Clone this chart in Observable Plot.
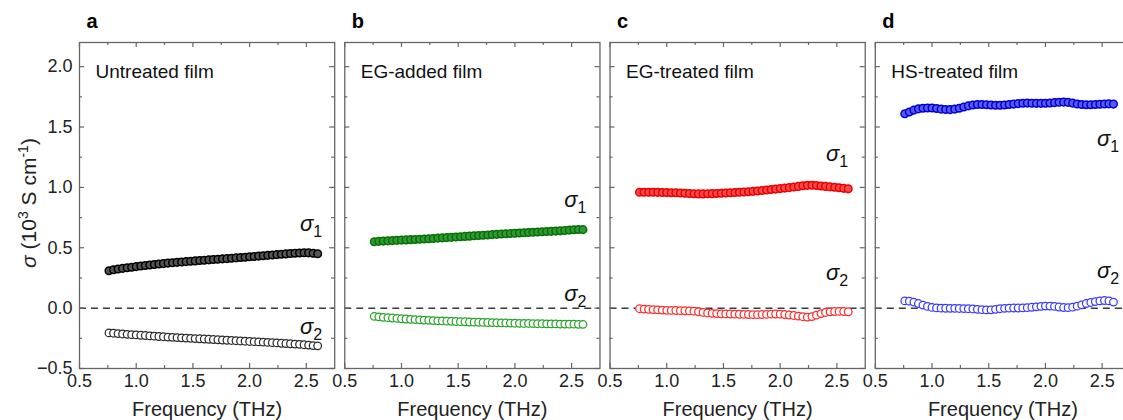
<!DOCTYPE html>
<html><head><meta charset="utf-8">
<script src="https://cdn.jsdelivr.net/npm/d3@7"></script>
<script src="https://cdn.jsdelivr.net/npm/@observablehq/plot@0.6"></script>
<style>
html,body{margin:0;padding:0;background:#fff;overflow:hidden;}
#chart{position:relative;width:1123px;height:420px;overflow:hidden;}
#chart svg{max-width:none !important;}
</style></head><body><div id="chart"></div>
<script>
// ---------- data ----------
const panels = ["a", "b", "c", "d"];
const films = ["Untreated film", "EG-added film", "EG-treated film", "HS-treated film"];
const freq = [0.76,0.80,0.84,0.88,0.92,0.96,1.00,1.04,1.08,1.12,1.16,1.20,1.24,1.28,1.32,1.36,1.40,1.44,1.48,1.52,1.56,1.60,1.64,1.68,1.72,1.76,1.80,1.84,1.88,1.92,1.96,2.00,2.04,2.08,2.12,2.16,2.20,2.24,2.28,2.32,2.36,2.40,2.44,2.48,2.52,2.56,2.60];

const sigma1_a = [0.310,0.318,0.324,0.329,0.334,0.339,0.344,0.349,0.353,0.357,0.361,0.365,0.369,0.373,0.376,0.379,0.382,0.385,0.388,0.391,0.394,0.397,0.400,0.403,0.405,0.408,0.410,0.413,0.416,0.419,0.422,0.425,0.428,0.431,0.434,0.437,0.440,0.443,0.446,0.449,0.452,0.455,0.457,0.459,0.458,0.454,0.450];
const sigma2_a = [-0.205,-0.208,-0.211,-0.214,-0.217,-0.220,-0.222,-0.225,-0.227,-0.230,-0.232,-0.235,-0.237,-0.240,-0.242,-0.244,-0.246,-0.248,-0.250,-0.252,-0.254,-0.256,-0.258,-0.260,-0.262,-0.264,-0.266,-0.268,-0.270,-0.272,-0.274,-0.276,-0.278,-0.280,-0.282,-0.284,-0.286,-0.288,-0.291,-0.293,-0.295,-0.298,-0.300,-0.303,-0.306,-0.310,-0.312];

const sigma1_b = [0.550,0.553,0.555,0.557,0.559,0.561,0.563,0.565,0.567,0.569,0.571,0.573,0.575,0.577,0.580,0.582,0.584,0.586,0.589,0.591,0.594,0.596,0.599,0.601,0.604,0.606,0.609,0.611,0.614,0.616,0.618,0.620,0.622,0.624,0.626,0.628,0.630,0.632,0.634,0.636,0.638,0.640,0.643,0.646,0.649,0.651,0.650];
const sigma2_b = [-0.068,-0.072,-0.076,-0.079,-0.082,-0.085,-0.088,-0.090,-0.093,-0.095,-0.097,-0.099,-0.101,-0.103,-0.105,-0.106,-0.108,-0.109,-0.111,-0.112,-0.113,-0.115,-0.116,-0.117,-0.118,-0.119,-0.120,-0.121,-0.122,-0.123,-0.124,-0.125,-0.126,-0.127,-0.127,-0.128,-0.129,-0.129,-0.130,-0.131,-0.131,-0.132,-0.132,-0.133,-0.133,-0.134,-0.134];

const sigma1_c = [0.960,0.960,0.960,0.960,0.959,0.958,0.957,0.956,0.955,0.953,0.951,0.949,0.947,0.946,0.946,0.947,0.948,0.950,0.952,0.954,0.956,0.958,0.960,0.962,0.964,0.967,0.970,0.974,0.978,0.982,0.986,0.990,0.994,0.998,1.003,1.008,1.013,1.017,1.018,1.016,1.012,1.008,1.004,1.001,0.997,0.992,0.988];
const sigma2_c = [-0.005,-0.008,-0.010,-0.012,-0.014,-0.016,-0.018,-0.019,-0.020,-0.021,-0.022,-0.023,-0.025,-0.030,-0.036,-0.040,-0.043,-0.045,-0.047,-0.048,-0.049,-0.050,-0.051,-0.052,-0.053,-0.054,-0.054,-0.053,-0.052,-0.050,-0.049,-0.050,-0.053,-0.057,-0.061,-0.066,-0.071,-0.074,-0.070,-0.058,-0.045,-0.036,-0.031,-0.028,-0.027,-0.028,-0.030];

const sigma1_d = [1.610,1.625,1.640,1.650,1.655,1.658,1.657,1.653,1.648,1.645,1.644,1.648,1.656,1.666,1.675,1.682,1.686,1.687,1.685,1.682,1.680,1.680,1.682,1.686,1.690,1.694,1.697,1.698,1.697,1.696,1.696,1.697,1.699,1.702,1.705,1.706,1.704,1.698,1.691,1.686,1.684,1.684,1.686,1.689,1.691,1.692,1.690];
const sigma2_d = [0.060,0.058,0.050,0.038,0.025,0.014,0.006,0.002,0.000,-0.001,-0.002,-0.002,-0.003,-0.004,-0.005,-0.007,-0.010,-0.013,-0.015,-0.014,-0.010,-0.005,-0.002,0.000,0.001,0.001,0.002,0.004,0.007,0.011,0.015,0.017,0.017,0.014,0.009,0.005,0.004,0.008,0.016,0.027,0.038,0.047,0.054,0.060,0.063,0.060,0.050];

const sigma1 = [sigma1_a, sigma1_b, sigma1_c, sigma1_d];
const sigma2 = [sigma2_a, sigma2_b, sigma2_c, sigma2_d];

const xTicksMajor = [0.5, 1.0, 1.5, 2.0, 2.5];
const xTicksMinor = [0.75, 1.25, 1.75, 2.25];
const yTicksMajor = [-0.5, 0.0, 0.5, 1.0, 1.5, 2.0];
const yTicksMinor = [-0.25, 0.25, 0.75, 1.25, 1.75];

// label annotation anchors (data coordinates)
const sigmaLabelX = [2.64, 2.63, 2.60, 2.65];
const sigma1LabelY = [0.70, 0.90, 1.28, 1.40];
const sigma2LabelY = [-0.16, 0.12, 0.29, 0.31];

// ---------- layout & styles ----------
const W = 1130, H = 420, MT = 42, MB = 52, ML = 79, MR = 0, PAD = 0.038;
const FH = H - MT - MB;
const FW = (W - ML - MR) / (panels.length - PAD) * (1 - PAD);
const YLABEL_CX = 27, YLABEL_CY = MT + FH / 2 - 2;
const style1 = [
  {fill: "#555555", stroke: "#000000"},
  {fill: "#2f9a2f", stroke: "#0a6e0a"},
  {fill: "#ff4a4a", stroke: "#e80000"},
  {fill: "#5a5aff", stroke: "#0000cc"}
];
const style2 = ["#2a2a2a", "#26a326", "#ff2a2a", "#3a3aff"];
const FONT = "'Liberation Sans', Arial, Helvetica, sans-serif";
const AX = "#666666";

// ---------- build ----------
const rows1 = [], rows2 = [];
panels.forEach((p, i) => {
  freq.forEach((f, j) => {
    rows1.push({panel: p, f, v: sigma1[i][j]});
    rows2.push({panel: p, f, v: sigma2[i][j]});
  });
});
const labelRows = panels.flatMap((p, i) => [
  {panel: p, x: sigmaLabelX[i], y: sigma1LabelY[i], t: "σ1"},
  {panel: p, x: sigmaLabelX[i], y: sigma2LabelY[i], t: "σ2"}
]);

const dotMarks = [];
panels.forEach((p, i) => {
  dotMarks.push(Plot.dot(rows2.filter(d => d.panel === p), {fx: "panel", x: "f", y: "v", r: 3.8, fill: "white", stroke: style2[i], strokeWidth: 1.25}));
  dotMarks.push(Plot.dot(rows1.filter(d => d.panel === p), {fx: "panel", x: "f", y: "v", r: 3.8, fill: style1[i].fill, stroke: style1[i].stroke, strokeWidth: 1.5}));
});

const tickMarks = (len, xs, ys) => [
  Plot.ruleX(xs, {x: d => d, insetTop: FH - len, stroke: AX, strokeWidth: 1.2}),
  Plot.ruleX(xs, {x: d => d, insetBottom: FH - len, stroke: AX, strokeWidth: 1.2}),
  Plot.ruleY(ys, {y: d => d, insetRight: FW - len, stroke: AX, strokeWidth: 1.2}),
  Plot.ruleY(ys, {y: d => d, insetLeft: FW - len, stroke: AX, strokeWidth: 1.2})
];

const plot = Plot.plot({
  width: W,
  height: H,
  marginTop: MT,
  marginBottom: MB,
  marginLeft: ML,
  marginRight: MR,
  style: {fontFamily: FONT, fontSize: "18px", color: "#222", background: "white"},
  fx: {domain: panels, paddingInner: PAD, paddingOuter: 0, round: false, axis: null, label: null},
  x: {domain: [0.5, 2.75], axis: null},
  y: {domain: [-0.5, 2.2], axis: null},
  marks: [
    Plot.ruleY([0], {stroke: "#3a3a3a", strokeWidth: 1.5, strokeDasharray: "7,5"}),
    ...dotMarks,
    Plot.frame({stroke: AX, strokeWidth: 1.3}),
    ...tickMarks(5, xTicksMajor, yTicksMajor),
    ...tickMarks(3, xTicksMinor, yTicksMinor),
    // tick labels
    Plot.axisX({anchor: "bottom", ticks: xTicksMajor, tickSize: 0, tickPadding: 6, tickFormat: d3.format(".1f"), label: null, fontSize: 18, fill: "#222"}),
    Plot.axisY({anchor: "left", ticks: yTicksMajor, tickSize: 0, tickPadding: 7, tickFormat: d3.format(".1f"), label: null, fontSize: 18, fill: "#222"}),
    // axis titles
    Plot.text(panels, {fx: d => d, text: () => "Frequency (THz)", frameAnchor: "bottom", lineAnchor: "middle", textAnchor: "middle", dy: 41, fontSize: 20, fill: "#222"}),
    Plot.text(["a"], {fx: d => d, text: () => "σ (10³ S cm⁻¹)", frameAnchor: "left", textAnchor: "middle", lineAnchor: "middle", dx: -52, rotate: -90, fontSize: 21, fill: "#222"}),
    // panel letters and film names
    Plot.text(panels, {fx: d => d, text: d => d, frameAnchor: "top-left", lineAnchor: "middle", textAnchor: "start", dx: 7, dy: -21, fontSize: 20, fontWeight: "bold", fill: "#000"}),
    Plot.text(panels, {fx: d => d, text: d => films[panels.indexOf(d)], frameAnchor: "top-left", lineAnchor: "middle", textAnchor: "start", dx: 16, dy: 29, fontSize: 19, fill: "#111"}),
    // sigma labels
    Plot.text(labelRows, {fx: "panel", x: "x", y: "y", text: "t", textAnchor: "end", lineAnchor: "middle", fontSize: 22, fill: "#111"})
  ]
});

// rich text: italic sigma, subscripts, superscripts
let yLabelEl = null;
d3.select(plot).selectAll("text").each(function () {
  const t = this.textContent;
  const m = /^σ([12])$/.exec(t);
  const sel = d3.select(this);
  if (m) {
    sel.text(null);
    sel.append("tspan").attr("font-style", "italic").text("σ");
    sel.append("tspan").attr("font-size", 16).attr("dy", 6).text(m[1]);
  } else if (t === "σ (10³ S cm⁻¹)") {
    yLabelEl = this;
    sel.attr("text-anchor", "middle");
    sel.text(null);
    sel.append("tspan").attr("font-style", "italic").text("σ");
    sel.append("tspan").text(" (10");
    sel.append("tspan").attr("font-size", 14).attr("dy", -8).text("3");
    sel.append("tspan").attr("dy", 8).text(" S cm");
    sel.append("tspan").attr("font-size", 14).attr("dy", -8).text("-1");
    sel.append("tspan").attr("dy", 8).text(")");
  }
});

document.getElementById("chart").appendChild(plot);

// centre the rotated y-axis title on the frame
if (yLabelEl) {
  const sr = plot.getBoundingClientRect();
  const r = yLabelEl.getBoundingClientRect();
  const cx = r.left + r.width / 2 - sr.left;
  const cy = r.top + r.height / 2 - sr.top;
  const tr = yLabelEl.getAttribute("transform") || "";
  yLabelEl.setAttribute("transform", `translate(${YLABEL_CX - cx},${YLABEL_CY - cy}) ${tr}`);
}
</script>
</body></html>
